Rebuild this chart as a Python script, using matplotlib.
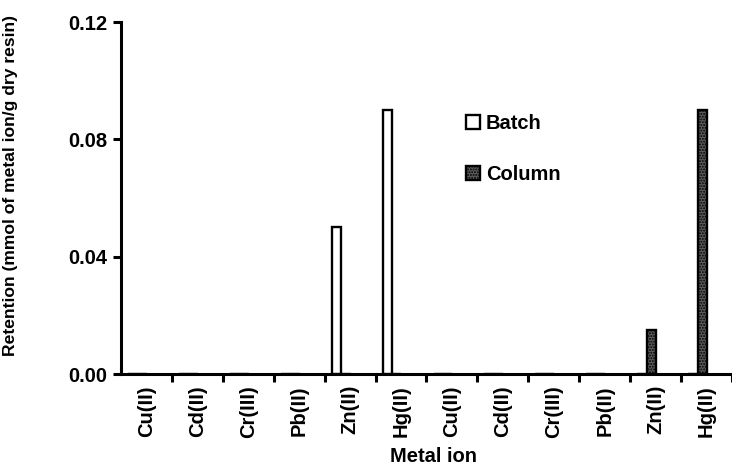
import matplotlib
matplotlib.use("Agg")
import matplotlib.pyplot as plt
from matplotlib.patches import Patch
import numpy as np

plt.rcParams['font.family'] = ['Liberation Sans', 'DejaVu Sans']
plt.rcParams['font.weight'] = 'bold'

# Data
ions = ["Cu(II)", "Cd(II)", "Cr(III)", "Pb(II)", "Zn(II)", "Hg(II)"]
categories = ions + ions
batch = [0, 0, 0, 0, 0.05, 0.09, 0, 0, 0, 0, 0, 0]
column = [0, 0, 0, 0, 0, 0, 0, 0, 0, 0, 0.015, 0.09]
yticks = [0.00, 0.04, 0.08, 0.12]

W, H = 732, 465
fig = plt.figure(figsize=(W / 100, H / 100), dpi=100)
ax = fig.add_axes([121 / W, (H - 374) / H, (W - 121) / W, (374 - 22) / H])

x = np.arange(len(categories))
bw = 0.185
lw = 1.7
col_face = '#5e5e5e'
ax.bar(x - 0.27, batch, width=bw, facecolor='white', edgecolor='black',
       linewidth=lw, label='Batch')
ax.bar(x - 0.085, column, width=bw, facecolor=col_face, edgecolor='black',
       linewidth=lw, hatch='......', label='Column')

ax.set_xlim(-0.5, -0.5 + (W - 121) / 51.48)
ax.set_ylim(0, 0.12)

# category boundaries carry the tick marks, labels sit at the centres
ax.set_xticks(np.arange(len(categories)) + 0.5)
ax.set_xticklabels([])
ax.set_xticks(x, minor=True)
ax.set_xticklabels(categories, minor=True, rotation=90, fontsize=14.5,
                   fontweight='bold')
ax.tick_params(axis='x', which='major', direction='out', length=6, width=2.2)
ax.tick_params(axis='x', which='minor', length=0, pad=8)

ax.set_yticks(yticks)
ax.set_yticklabels([f"{v:.2f}" for v in yticks], fontsize=14.5,
                   fontweight='bold')
ax.tick_params(axis='y', direction='out', length=6, width=2.2, pad=4)

for s in ['top', 'right']:
    ax.spines[s].set_visible(False)
for s in ['left', 'bottom']:
    ax.spines[s].set_linewidth(2.2)

ax.set_ylabel("Retention (mmol of metal ion/g dry resin)", fontsize=12.6,
              fontweight='bold')
ax.yaxis.set_label_coords(-0.168, 0.535)
ax.set_xlabel("Metal ion", fontsize=14.5, fontweight='bold', va='baseline')
ax.xaxis.set_label_coords((433 - 121) / (W - 121), -(462 - 374) / (374 - 22))

handles = [Patch(facecolor='white', edgecolor='black', linewidth=lw),
           Patch(facecolor=col_face, edgecolor='black', linewidth=lw,
                 hatch='......')]
ax.legend(handles, ["Batch", "Column"], loc='upper left',
          bbox_to_anchor=(466 / W, (H - 114) / H),
          bbox_transform=fig.transFigure, frameon=False, fontsize=14.5,
          handlelength=0.7, handleheight=0.7, handletextpad=0.28,
          labelspacing=1.6, borderpad=0, borderaxespad=0)

fig.savefig("out.png", dpi=100)
